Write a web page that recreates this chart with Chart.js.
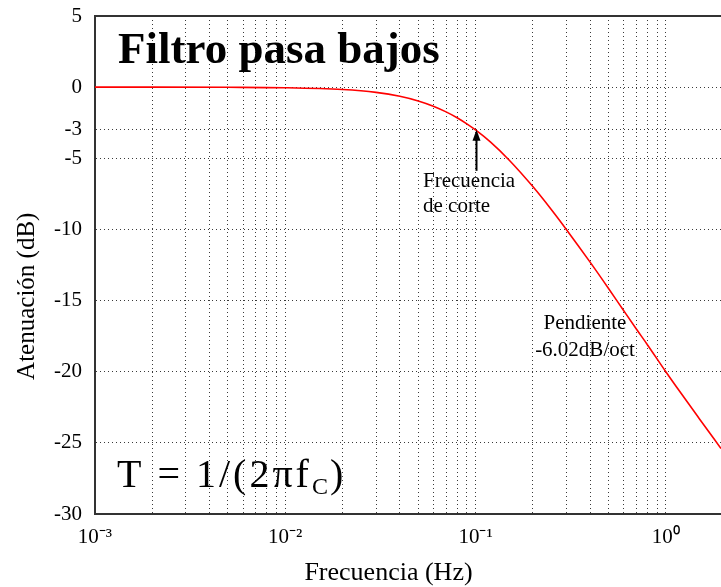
<!DOCTYPE html>
<html>
<head>
<meta charset="utf-8">
<script src="https://cdn.jsdelivr.net/npm/chart.js@4.4.1/dist/chart.umd.min.js"></script>
<style>
  html, body { margin: 0; padding: 0; background: #ffffff; }
  #wrap { width: 721px; height: 587px; position: relative; }
</style>
</head>
<body>
<div id="wrap"><canvas id="c"></canvas></div>
<script>
// ---- Data ----
const frequencies = [0.001, 0.002, 0.005, 0.01, 0.02, 0.03, 0.04, 0.05, 0.06, 0.07, 0.08, 0.09,
  0.1, 0.12, 0.15, 0.2, 0.25, 0.3, 0.4, 0.5, 0.6, 0.7, 0.8, 1.0, 1.2, 1.5, 1.95];
const attenuation = [0, 0, -0.01, -0.04, -0.17, -0.37, -0.64, -0.97, -1.34, -1.74, -2.15, -2.58,
  -3.01, -3.87, -5.12, -6.99, -8.6, -10.0, -12.3, -14.15, -15.7, -17.0, -18.1, -20.0, -21.5, -23.3, -25.4];

// Grid positions along the frequency axis (log decades)
const xGridValues = [0.001, 0.002, 0.003, 0.004, 0.005, 0.006, 0.007, 0.008, 0.009,
  0.01, 0.02, 0.03, 0.04, 0.05, 0.06, 0.07, 0.08, 0.09,
  0.1, 0.2, 0.3, 0.4, 0.5, 0.6, 0.7, 0.8, 0.9, 1];
const xLabelValues = [0.001, 0.01, 0.1, 1];
const xTickLabels = ['10⁻³', '10⁻²', '10⁻¹', '10⁰'];

const yTickValues = [5, 0, -3, -5, -10, -15, -20, -25, -30];
const yTickLabels = ['5', '0', '-3', '-5', '-10', '-15', '-20', '-25', '-30'];

const xMin = 0.001, xMax = 1.95, yMin = -30, yMax = 5;

const xTitle = 'Frecuencia (Hz)';
const yTitle = 'Atenuación (dB)';
const chartTitle = 'Filtro pasa bajos';
const cutoffLabel = ['Frecuencia', 'de corte'];
const slopeLabel = ['Pendiente', '-6.02dB/oct'];
const formulaMain = 'T = 1/(2πf';
const formulaSub = 'C';
const formulaEnd = ')';

const SERIF = '"Liberation Serif", "Times New Roman", serif';

const annotations = {
  id: 'annotations',
  afterDatasetsDraw(chart) {
    const { ctx, scales } = chart;
    const xs = scales.x, ys = scales.y;
    ctx.save();
    ctx.fillStyle = '#000';
    ctx.strokeStyle = '#000';
    ctx.textBaseline = 'alphabetic';

    // Title
    ctx.font = 'bold 45px ' + SERIF;
    ctx.textAlign = 'left';
    ctx.fillText(chartTitle, 118, 63);

    // Cut-off arrow anchored on the data point (0.1 Hz, -3 dB)
    const tx = Math.round(xs.getPixelForValue(0.1)) + 0.5;
    const ty = ys.getPixelForValue(-3);
    ctx.lineWidth = 2;
    ctx.beginPath();
    ctx.moveTo(tx, ty + 8);
    ctx.lineTo(tx, ty + 41);
    ctx.stroke();
    ctx.beginPath();
    ctx.moveTo(tx, ty);
    ctx.lineTo(tx - 4, ty + 11);
    ctx.lineTo(tx + 4, ty + 11);
    ctx.closePath();
    ctx.fill();

    ctx.font = '21px ' + SERIF;
    ctx.textAlign = 'left';
    ctx.fillText(cutoffLabel[0], 423, 187);
    ctx.fillText(cutoffLabel[1], 423, 212);

    ctx.textAlign = 'center';
    ctx.fillText(slopeLabel[0], 585, 329);
    ctx.fillText(slopeLabel[1], 585, 356);

    // Formula
    ctx.textAlign = 'left';
    ctx.font = '40px ' + SERIF;
    try { ctx.letterSpacing = '3px'; } catch (e) {}
    ctx.fillText(formulaMain, 117, 487);
    const w = ctx.measureText(formulaMain).width;
    try { ctx.letterSpacing = '0px'; } catch (e) {}
    ctx.font = '24px ' + SERIF;
    ctx.fillText(formulaSub, 117 + w, 494);
    const wc = ctx.measureText(formulaSub).width;
    ctx.font = '40px ' + SERIF;
    ctx.fillText(formulaEnd, 117 + w + wc + 2, 487);
    ctx.restore();
  }
};

const gridColor = '#3a3a3a';

new Chart(document.getElementById('c'), {
  type: 'line',
  data: {
    datasets: [{
      data: frequencies.map((f, i) => ({ x: f, y: attenuation[i] })),
      borderColor: '#ff0000',
      borderWidth: 1.6,
      pointRadius: 0,
      fill: false,
      cubicInterpolationMode: 'monotone'
    }]
  },
  options: {
    responsive: true,
    maintainAspectRatio: false,
    animation: false,
    layout: { padding: { left: 0, right: 0, top: 16, bottom: 0 } },
    plugins: { legend: { display: false }, tooltip: { enabled: false } },
    scales: {
      x: {
        type: 'logarithmic',
        position: 'bottom',
        min: xMin, max: xMax,
        afterBuildTicks: s => { s.ticks = xGridValues.map(v => ({ value: v })); },
        afterFit: s => { s.height = 73; s.paddingLeft = 0; s.paddingRight = 0; },
        ticks: {
          autoSkip: false, maxRotation: 0, minRotation: 0, padding: 11,
          color: '#000',
          font: { family: SERIF, size: 21 },
          callback: v => {
            const i = xLabelValues.findIndex(t => Math.abs(t - v) / t < 1e-6);
            return i >= 0 ? xTickLabels[i] : '';
          }
        },
        grid: { color: gridColor, lineWidth: 1, drawTicks: false },
        border: { display: true, color: '#333', width: 2, dash: [1, 3] },
        title: {
          display: true, text: xTitle + '      ', color: '#000',
          font: { family: SERIF, size: 26, lineHeight: 1 },
          padding: { top: 0, bottom: 1 }
        }
      },
      xTop: {
        type: 'logarithmic',
        position: 'top',
        min: xMin, max: xMax,
        afterFit: s => { s.height = 0; s.paddingLeft = 0; s.paddingRight = 0; },
        ticks: { display: false },
        grid: { display: false, drawTicks: false },
        border: { display: true, color: '#333', width: 2 }
      },
      y: {
        min: yMin, max: yMax,
        position: 'left',
        afterBuildTicks: s => { s.ticks = yTickValues.map(v => ({ value: v })); },
        afterFit: s => { s.width = 95; s.paddingTop = 0; s.paddingBottom = 0; },
        ticks: {
          padding: 13, color: '#000',
          font: { family: SERIF, size: 21 },
          callback: v => {
            const i = yTickValues.indexOf(v);
            return i >= 0 ? yTickLabels[i] : '';
          }
        },
        grid: {
          color: c => (c.tick && (c.tick.value === yMax || c.tick.value === yMin)) ? 'rgba(0,0,0,0)' : gridColor,
          lineWidth: 1, drawTicks: false
        },
        border: { display: true, color: '#333', width: 2, dash: [1, 3] },
        title: {
          display: true, text: yTitle + '          ', color: '#000',
          font: { family: SERIF, size: 25, lineHeight: 1 },
          padding: { top: 15, bottom: 0 }
        }
      }
    }
  },
  plugins: [annotations]
});
</script>
</body>
</html>
